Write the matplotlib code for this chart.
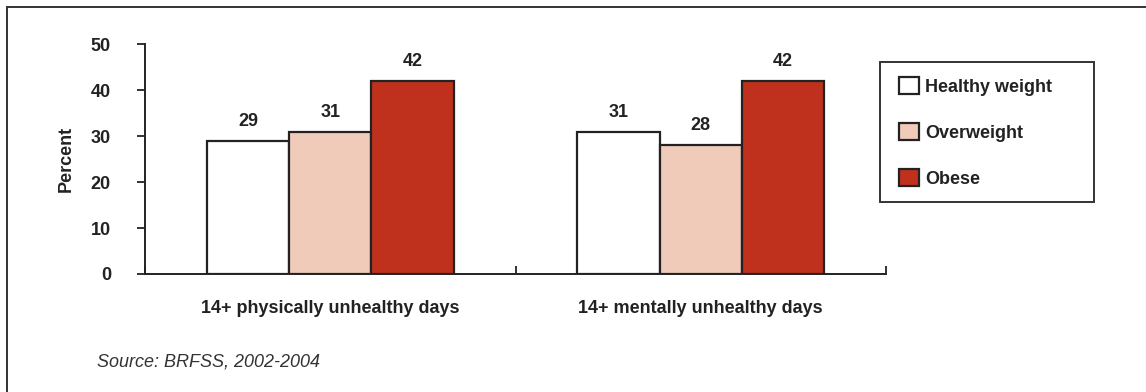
import matplotlib
matplotlib.use("Agg")
import matplotlib.pyplot as plt
from matplotlib.patches import Rectangle, Patch
import numpy as np

plt.rcParams['font.family'] = ['Liberation Sans', 'DejaVu Sans']

categories = ["14+ physically unhealthy days", "14+ mentally unhealthy days"]
series_names = ["Healthy weight", "Overweight", "Obese"]
healthy = [29, 31]
overweight = [31, 28]
obese = [42, 42]
yticks = [0, 10, 20, 30, 40, 50]

colors = ["#FFFFFF", "#F0CBBA", "#BF311D"]
edge = "#222222"
txt = "#222222"
W, H = 1146, 392

fig = plt.figure(figsize=(W / 100, H / 100), dpi=100)
fig.patch.set_facecolor("white")

# outer frame (runs off the right and bottom edges)
fig.add_artist(Rectangle((7 / W, -10 / H), (W + 20) / W, (H - 7 + 10) / H,
                         transform=fig.transFigure, fill=False,
                         edgecolor="#333333", linewidth=1.4))

ax = fig.add_axes([145 / W, 118 / H, 741 / W, 229.7 / H])
x = np.arange(len(categories))
w = 0.222
for i, (vals, c) in enumerate(zip([healthy, overweight, obese], colors)):
    pos = x + (i - 1) * w
    ax.bar(pos, vals, width=w, color=c, edgecolor=edge, linewidth=1.6, zorder=3)
    for p, v in zip(pos, vals):
        ax.text(p, v + 2.4, f"{v}", ha="center", va="bottom",
                fontsize=13, fontweight="bold", color=txt)

ax.set_xlim(-0.5, 1.5)
ax.set_ylim(0, 50)
ax.set_yticks(yticks)
ax.set_yticklabels([str(t) for t in yticks], fontsize=13, fontweight="bold", color=txt)
ax.set_xticks([-0.5, 0.5, 1.5])
ax.set_xticklabels([])
ax.set_xticks(x, minor=True)
ax.set_xticklabels(categories, minor=True, fontsize=13, fontweight="bold", color=txt)
ax.tick_params(axis="x", which="minor", length=0, pad=19)
ax.tick_params(axis="x", which="major", direction="in", length=6, width=1.3, color=edge)
ax.tick_params(axis="y", direction="out", length=6, width=1.3, color=edge, pad=18.5)
for s in ["top", "right"]:
    ax.spines[s].set_visible(False)
for s in ["left", "bottom"]:
    ax.spines[s].set_linewidth(1.4)
    ax.spines[s].set_color(edge)
ax.set_ylabel("Percent", fontsize=13, fontweight="bold", color=txt)
ax.yaxis.set_label_coords(-0.0945, 0.5)

# legend with its own frame
fig.add_artist(Rectangle((880 / W, 1 - 202 / H), 214 / W, 140 / H,
                         transform=fig.transFigure, fill=False,
                         edgecolor="#333333", linewidth=1.4))
handles = [Patch(facecolor=c, edgecolor=edge, linewidth=1.6) for c in colors]
leg = fig.legend(handles, series_names, loc="upper left",
                 bbox_to_anchor=(899 / W, 1 - 77 / H),
                 frameon=False, prop={"size": 13, "weight": "bold"},
                 handlelength=1.1, handleheight=1.1, handletextpad=0.35,
                 labelspacing=1.5, borderpad=0, borderaxespad=0)
for t in leg.get_texts():
    t.set_color(txt)

fig.text(97 / W, 1 - 362 / H, "Source: BRFSS, 2002-2004", fontsize=13,
         style="italic", color="#333333", va="center", ha="left")

fig.savefig("out.png", dpi=100)
